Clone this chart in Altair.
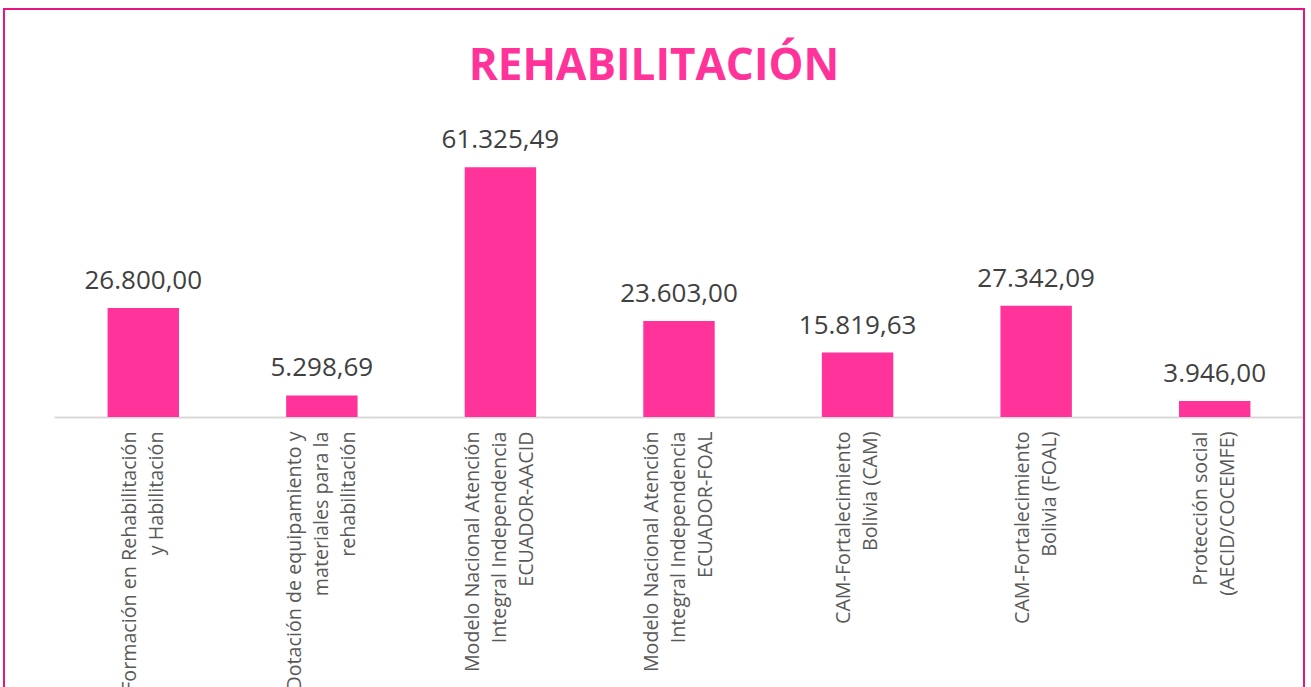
import altair as alt
import pandas as pd

title_text = ["REHABILITACIÓN"]
categories = [
    "Formación en Rehabilitación|y Habilitación",
    "Dotación de equipamiento y|materiales para la|rehabilitación",
    "Modelo Nacional Atención|Integral Independencia|ECUADOR-AACID",
    "Modelo Nacional Atención|Integral Independencia|ECUADOR-FOAL",
    "CAM-Fortalecimiento|Bolivia (CAM)",
    "CAM-Fortalecimiento|Bolivia (FOAL)",
    "Protección social|(AECID/COCEMFE)",
]
values = [26800.00, 5298.69, 61325.49, 23603.00, 15819.63, 27342.09, 3946.00]


def es_fmt(v):
    return f"{v:,.2f}".replace(",", "X").replace(".", ",").replace("X", ".")


labels = [es_fmt(v) for v in values]

df = pd.DataFrame({"cat": categories, "value": values, "label": labels})

PINK = "#FF3399"
LINE_H = 27

base = alt.Chart(df).encode(
    x=alt.X(
        "cat:N",
        sort=None,
        title=None,
        scale=alt.Scale(paddingInner=0.6, paddingOuter=0.3),
        axis=alt.Axis(
            labelAngle=-90,
            labelExpr="split(datum.label, '|')",
            labelFont="Open Sans",
            labelFontSize=19.7,
            labelLineHeight=LINE_H,
            labelColor="#595959",
            labelPadding=14,
            labelLimit=600,
            labelOffset={
                "condition": {
                    "test": "length(split(datum.label, '|')) == 3",
                    "value": -LINE_H,
                },
                "value": -LINE_H / 2,
            },
            ticks=False,
            domainColor="#D9D9D9",
            domainWidth=2,
            grid=False,
        ),
    ),
    y=alt.Y("value:Q", axis=None, scale=alt.Scale(domain=[0, 70000])),
)

bars = base.mark_bar(color=PINK)

texts = base.mark_text(
    font="Open Sans",
    fontSize=26,
    color="#404040",
    baseline="alphabetic",
    dy=-19,
).encode(text="label:N")

title = (
    alt.Chart(pd.DataFrame({"t": title_text}))
    .mark_text(
        font="Open Sans",
        fontSize=44,
        fontWeight="bold",
        color=PINK,
        align="center",
        baseline="alphabetic",
    )
    .encode(text="t:N", x=alt.value(600), y=alt.value(-52))
)

border = (
    alt.Chart(pd.DataFrame({"a": [0]}))
    .mark_rect(filled=False, stroke="#E6157F", strokeWidth=2)
    .encode(
        x=alt.value(-50),
        x2=alt.value(1250),
        y=alt.value(-123),
        y2=alt.value(600),
    )
)

chart = (
    alt.layer(bars, texts, title, border)
    .properties(
        width=1250,
        height=285,
        autosize=alt.AutoSizeParams(type="none"),
        padding={"left": 54, "top": 132, "right": 7, "bottom": 280},
        background="white",
    )
    .configure_view(stroke=None)
)

chart.save("out.html", embed_options={"renderer": "svg", "actions": False})
